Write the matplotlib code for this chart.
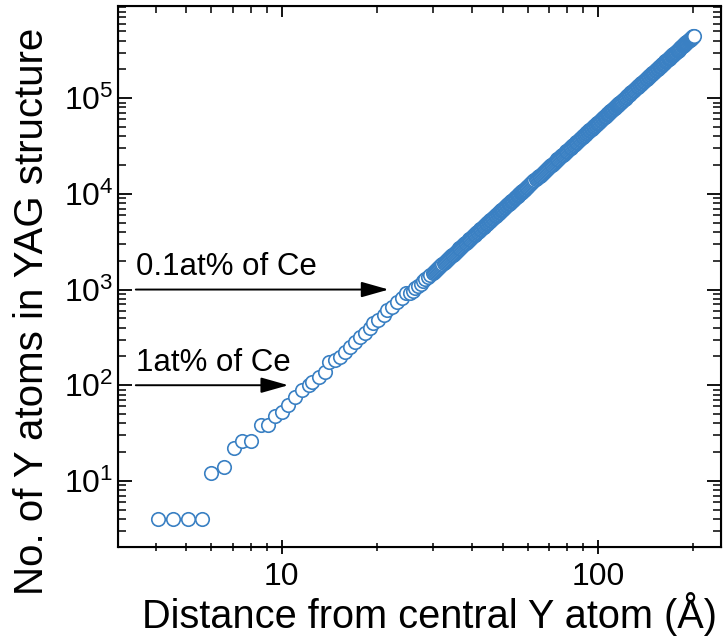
import matplotlib
matplotlib.use("Agg")
import matplotlib.pyplot as plt
import numpy as np

plt.rcParams['font.family'] = ['Liberation Sans', 'DejaVu Sans']
plt.rcParams['mathtext.default'] = 'regular'

# shells close to the central Y atom
r_near = [4.06, 4.53, 5.05, 5.6, 6.0, 6.56, 7.06, 7.48, 8.03, 8.6, 9.03, 9.5,
          10.0, 10.5, 11.0, 11.6, 12.2, 12.5, 13.1, 13.7, 14.1, 14.7, 15.3,
          15.9, 16.5, 17.1, 17.7, 18.4, 19.1, 19.5, 20.2, 21.0, 21.5, 22.3,
          23.1, 24.0, 24.8]
n_near = [4, 4, 4, 4, 12, 14, 22, 26, 26, 38, 38, 48,
          53, 62, 76, 89, 101, 109, 123, 139, 177, 184, 199,
          224, 253, 285, 322, 349, 394, 444, 481, 543, 612, 663,
          748, 811, 914]

# cumulative counts further out
r_far = [25.5, 26, 26.5, 27, 27.5, 28, 28.5, 29, 29.5, 30, 30.5, 31, 31.5, 32,
         32.5, 33, 33.5, 34, 34.5, 35, 35.5, 36, 36.5, 37, 37.5, 38, 38.5, 39,
         39.5, 40, 40.5, 41, 41.5, 42, 42.5, 43, 43.5, 44, 44.5, 45,
         45.5, 46, 46.5, 47, 47.5, 48, 48.5, 49, 49.5, 50, 50.5, 51, 51.5, 52,
         52.5, 53, 53.5, 54, 54.5, 55, 55.5, 56, 56.5, 57, 57.5, 58, 58.5, 59,
         59.5, 60, 60.5, 61, 61.5, 62, 62.5, 63, 63.5, 64, 64.5, 65, 65.5, 66,
         66.5, 67, 67.5, 68, 68.5, 69, 69.5, 70,
         71, 72, 73, 74, 75, 76, 77, 78, 79, 80, 81, 82, 83, 84, 85, 86, 87, 88,
         89, 90, 91, 92, 93, 94, 95, 96, 97, 98, 99, 100, 101, 102, 103, 104,
         105, 106, 107, 108, 109, 110, 111, 112, 113, 114, 115, 116, 117, 118,
         119, 120,
         121.5, 123, 124.5, 126, 127.5, 129, 130.5, 132, 133.5, 135, 136.5, 138,
         139.5, 141, 142.5, 144, 145.5, 147, 148.5, 150, 151.5, 153, 154.5, 156,
         157.5, 159, 160.5, 162, 163.5, 165, 166.5, 168, 169.5, 171, 172.5, 174,
         175.5, 177, 178.5, 180, 181.5, 183, 184.5, 186, 187.5, 189, 190.5, 192,
         193.5, 195, 196.5, 198, 199.5, 201]
n_far = [918, 973, 1030, 1089, 1151, 1215, 1281, 1350, 1421, 1494, 1570, 1649,
         1730, 1813, 1900, 1989, 2081, 2175, 2273, 2373, 2476, 2582, 2691, 2803,
         2918, 3037, 3158, 3283, 3411, 3542, 3676, 3814, 3955, 4100, 4248, 4400,
         4555, 4714, 4877, 5043,
         5213, 5387, 5564, 5746, 5931, 6120, 6313, 6511, 6712, 6918, 7127, 7341,
         7559, 7781, 8008, 8239, 8474, 8714, 8958, 9207, 9461, 9719, 9981, 10248,
         10521, 10797, 11079, 11366, 11657, 11953, 12255, 12561, 12873, 13189,
         13511, 13838, 14170, 14507, 14850, 15198, 15551, 15910, 16274, 16644,
         17020, 17401, 17787, 18180, 18578, 18982,
         19807, 20656, 21528, 22425, 23347, 24293, 25265, 26262, 27285, 28334,
         29410, 30513, 31643, 32800, 33986, 35199, 36442, 37713, 39013, 40343,
         41703, 43093, 44513, 45965, 47447, 48961, 50507, 52086, 53696, 55340,
         57017, 58727, 60472, 62250, 64063, 65911, 67794, 69713, 71667, 73658,
         75685, 77749, 79850, 81989, 84165, 86380, 88633, 90925, 93257, 95628,
         99259, 102980, 106794, 110701, 114702, 118798, 122990, 127280, 131669,
         136157, 140746, 145437, 150232, 155130, 160134, 165244, 170462, 175789,
         181225, 186773, 192432, 198204, 204091, 210094, 216212, 222449, 228804,
         235280, 241876, 248594, 255436, 262402, 269494, 276712, 284058, 291532,
         299137, 306873, 314741, 322743, 330879, 339150, 347559, 356105, 364790,
         373615, 382582, 391690, 400936, 410339, 419881, 429571, 439408, 449394]

# extra shells in between (the band gets very crowded here)
r_mid = [30.25, 30.75, 31.25, 31.75, 32.25, 32.75, 33.25, 33.75, 34.25, 34.75,
         35.25, 35.75, 36.25, 36.75, 37.25, 37.75, 38.25, 38.75, 39.25, 39.75,
         40.25, 40.75, 41.25, 41.75, 42.25, 42.75, 43.25, 43.75, 44.25, 44.75,
         45.25, 45.75, 46.25, 46.75, 47.25, 47.75, 48.25, 48.75, 49.25, 49.75,
         50.25, 50.75, 51.25, 51.75, 52.25, 52.75, 53.25, 53.75, 54.25, 54.75,
         55.25, 55.75, 56.25, 56.75, 57.25, 57.75, 58.25, 58.75, 59.25, 59.75,
         70.5, 71.5, 72.5, 73.5, 74.5, 75.5, 76.5, 77.5, 78.5, 79.5, 80.5, 81.5,
         82.5, 83.5, 84.5, 85.5, 86.5, 87.5, 88.5, 89.5, 90.5, 91.5, 92.5, 93.5,
         94.5, 95.5, 96.5, 97.5, 98.5, 99.5, 100.5, 101.5, 102.5, 103.5, 104.5,
         105.5, 106.5, 107.5, 108.5, 109.5, 110.5, 111.5, 112.5, 113.5, 114.5,
         115.5, 116.5, 117.5, 118.5, 119.5,
         120.75, 122.25, 123.75, 125.25, 126.75, 128.25, 129.75, 131.25, 132.75,
         134.25, 135.75, 137.25, 138.75, 140.25, 141.75, 143.25, 144.75, 146.25,
         147.75, 149.25, 150.75, 152.25, 153.75, 155.25, 156.75, 158.25, 159.75,
         161.25, 162.75, 164.25, 165.75, 167.25, 168.75, 170.25, 171.75, 173.25,
         174.75, 176.25, 177.75, 179.25, 180.75, 182.25, 183.75, 185.25, 186.75,
         188.25, 189.75, 191.25, 192.75, 194.25, 195.75, 197.25, 198.75, 200.25]
n_mid = [1532, 1610, 1690, 1772, 1857, 1945, 2035, 2128, 2224, 2323,
         2425, 2529, 2637, 2747, 2861, 2978, 3098, 3221, 3347, 3477,
         3609, 3745, 3885, 4028, 4174, 4324, 4478, 4635, 4796, 4960,
         5128, 5300, 5476, 5655, 5839, 6026, 6217, 6412, 6612, 6815,
         7023, 7234, 7450, 7670, 7895, 8124, 8357, 8594, 8836, 9083,
         9334, 9590, 9850, 10115, 10385, 10659, 10938, 11223, 11512, 11805,
         19395, 20232, 21092, 21977, 22886, 23820, 24779, 25764, 26774, 27810,
         28872, 29962, 31078, 32222, 33393, 34593, 35821, 37078, 38363, 39678,
         41023, 42398, 43803, 45239, 46706, 48204, 49734, 51297, 52891, 54518,
         56179, 57872, 59600, 61361, 63157, 64987, 66853, 68754, 70690, 72663,
         74672, 76717, 78800, 80920, 83077, 85273, 87507, 89779, 92091, 94443,
         97444, 101120, 104887, 108748, 112702, 116750, 120894, 125135, 129475,
         133913, 138452, 143092, 147835, 152681, 157632, 162689, 167853, 173126,
         178507, 183999, 189603, 195318, 201148, 207093, 213153, 219331, 225627,
         232042, 238578, 245235, 252015, 258919, 265948, 273103, 280385, 287795,
         295335, 303005, 310807, 318742, 326811, 335015, 343355, 351832, 360448,
         369203, 378099, 387136, 396313, 405638, 415110, 424726, 434490, 444401]

distance = np.array(r_near + r_far + r_mid)
count = np.array(n_near + n_far + n_mid)
order = np.argsort(distance)
distance = distance[order]
count = count[order]

# Ce doping levels marked on the plot
doping_labels = ['0.1at% of Ce', '1at% of Ce']
doping_n = [1000, 100]
arrow_start = [3.46, 3.46]
arrow_end = [21.8, 10.5]

fig = plt.figure(figsize=(7.25, 6.36), dpi=100)
ax = fig.add_axes([0.1628, 0.140, 0.8317, 0.8506])

ax.plot(distance, count, 'o', mfc='white', mec='#3a80c3', mew=1.2, ms=9.7,
        linestyle='none')

ax.set_xscale('log')
ax.set_yscale('log')
ax.set_xlim(3.04, 245)
ax.set_ylim(2.04, 9.2e5)
ax.set_xticks([10, 100])
ax.set_xticklabels(['10', '100'])

for lab, n, x0, x1 in zip(doping_labels, doping_n, arrow_start, arrow_end):
    ax.annotate('', xy=(x1, n), xytext=(x0, n),
                arrowprops=dict(arrowstyle='-|>,head_length=0.6,head_width=0.17',
                                color='black', lw=1.4, mutation_scale=28,
                                shrinkA=0, shrinkB=0))
    ax.text(x0, n * 1.2, lab, fontsize=22.5, ha='left', va='bottom')

ax.set_xlabel('Distance from central Y atom (Å)', fontsize=28.6, labelpad=0)
ax.set_ylabel('No. of Y atoms in YAG structure', fontsize=29, labelpad=9)
ax.xaxis.label.set_x(0.517)
ax.yaxis.label.set_y(0.436)

for s in ax.spines.values():
    s.set_linewidth(1.5)
ax.tick_params(axis='both', which='major', labelsize=23, width=1.3)
ax.tick_params(axis='x', which='both', direction='inout', top=False)
ax.tick_params(axis='y', which='both', direction='in', right=True)
ax.tick_params(which='major', length=10)
ax.tick_params(which='minor', length=6, width=1.1)
ax.tick_params(axis='x', which='major', pad=6)

# top axis: inward ticks only, no labels
top = ax.twiny()
top.set_xscale('log')
top.set_xlim(ax.get_xlim())
top.tick_params(axis='x', which='both', direction='in', labeltop=False)
top.tick_params(which='major', length=8, width=1.3)
top.tick_params(which='minor', length=5, width=1.1)

plt.savefig('out.png', dpi=100)
